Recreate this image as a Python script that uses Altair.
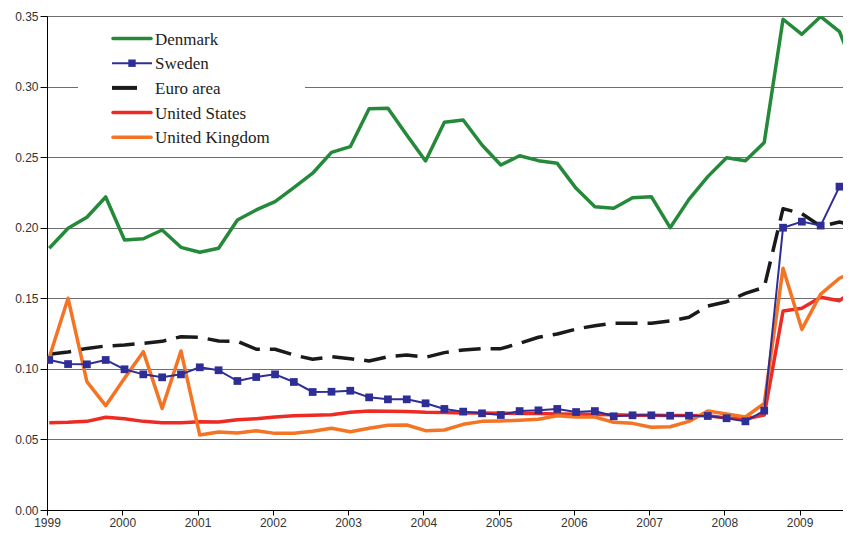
import altair as alt
import pandas as pd

# Quarterly observations, 1999Q1 .. 2009Q4 (44 quarters)
n_quarters = 44
start_year = 1999

denmark = [0.1854, 0.1996, 0.2074, 0.2218, 0.1913, 0.1922, 0.1984, 0.1861, 0.1826, 0.1854,
           0.2055, 0.2126, 0.2185, 0.2284, 0.2386, 0.2534, 0.2574, 0.2843, 0.2846, 0.2657,
           0.2473, 0.2747, 0.2763, 0.2586, 0.2444, 0.2510, 0.2475, 0.2456, 0.2279, 0.2149,
           0.2138, 0.2213, 0.2220, 0.2000, 0.2201, 0.2362, 0.2496, 0.2475, 0.2603, 0.3477,
           0.3370, 0.3496, 0.3389, 0.3054]
sweden = [0.1063, 0.1034, 0.1032, 0.1063, 0.0997, 0.0961, 0.0940, 0.0961, 0.1011, 0.0990,
          0.0914, 0.0942, 0.0961, 0.0907, 0.0836, 0.0838, 0.0845, 0.0798, 0.0784, 0.0784,
          0.0756, 0.0716, 0.0697, 0.0685, 0.0673, 0.0701, 0.0706, 0.0716, 0.0694, 0.0701,
          0.0664, 0.0671, 0.0671, 0.0668, 0.0668, 0.0666, 0.0650, 0.0628, 0.0704, 0.2000,
          0.2043, 0.2015, 0.2291, 0.2190]
euro_area = [0.1103, 0.1119, 0.1145, 0.1162, 0.1169, 0.1181, 0.1195, 0.1228, 0.1224, 0.1197,
             0.1195, 0.1139, 0.1139, 0.1098, 0.1068, 0.1086, 0.1072, 0.1056, 0.1086, 0.1098,
             0.1082, 0.1115, 0.1134, 0.1143, 0.1143, 0.1181, 0.1224, 0.1247, 0.1282, 0.1306,
             0.1323, 0.1323, 0.1323, 0.1339, 0.1365, 0.1445, 0.1476, 0.1535, 0.1578, 0.2135,
             0.2100, 0.2010, 0.2040, 0.2010]
united_states = [0.0619, 0.0621, 0.0628, 0.0657, 0.0647, 0.0628, 0.0619, 0.0619, 0.0626, 0.0624,
                 0.0640, 0.0647, 0.0659, 0.0668, 0.0671, 0.0675, 0.0692, 0.0701, 0.0699, 0.0697,
                 0.0692, 0.0690, 0.0688, 0.0687, 0.0686, 0.0684, 0.0683, 0.0680, 0.0678, 0.0676,
                 0.0674, 0.0672, 0.0671, 0.0670, 0.0670, 0.0668, 0.0652, 0.0645, 0.0673, 0.1410,
                 0.1429, 0.1507, 0.1483, 0.1580]
united_kingdom = [0.1080, 0.1500, 0.0909, 0.0739, 0.0933, 0.1122, 0.0720, 0.1127, 0.0531, 0.0553,
                  0.0546, 0.0562, 0.0543, 0.0543, 0.0558, 0.0579, 0.0555, 0.0579, 0.0600, 0.0602,
                  0.0562, 0.0567, 0.0607, 0.0628, 0.0631, 0.0636, 0.0643, 0.0668, 0.0659, 0.0659,
                  0.0621, 0.0614, 0.0586, 0.0590, 0.0628, 0.0701, 0.0680, 0.0659, 0.0756, 0.1713,
                  0.1280, 0.1530, 0.1642, 0.1700]

series_names = ["Denmark", "Sweden", "Euro area", "United States", "United Kingdom"]
series_values = [denmark, sweden, euro_area, united_states, united_kingdom]
series_colors = ["#248a3a", "#2e2e96", "#1a1a1a", "#ee2a24", "#f47424"]

year_ticks = list(range(1999, 2010))
y_ticks = [0.00, 0.05, 0.10, 0.15, 0.20, 0.25, 0.30, 0.35]

# observation time (quarter dates)
times = [start_year + i / 4 + 0.03 for i in range(n_quarters)]

rows = []
for name, vals in zip(series_names, series_values):
    for t, v in zip(times, vals):
        rows.append({"country": name, "t": t, "value": v})
df = pd.DataFrame(rows)

W, H = 796, 494
PX_PER_YEAR = 75.26
x_scale = alt.Scale(domain=[1999, 1999 + W / PX_PER_YEAR], nice=False, zero=False)
y_scale = alt.Scale(domain=[0, 0.35], nice=False)
color_scale = alt.Scale(domain=series_names, range=series_colors)

x_enc = alt.X("t:Q", scale=x_scale,
              axis=alt.Axis(values=year_ticks, format="d", title=None, grid=False,
                            labelFont="Liberation Sans", labelFontSize=12, labelColor="#333333",
                            domainColor="#000000", tickColor="#000000", tickSize=5,
                            labelPadding=2, labelFlush=False))
y_enc = alt.Y("value:Q", scale=y_scale,
              axis=alt.Axis(values=y_ticks, format=".2f", title=None, grid=True,
                            gridColor="#6e6e6e", gridWidth=1,
                            labelFont="Liberation Sans", labelFontSize=12, labelColor="#333333",
                            domainColor="#000000", tickColor="#000000", tickSize=7,
                            labelPadding=2))

def line_for(name, width, dash=None):
    kw = dict(strokeWidth=width, clip=True, strokeJoin="round")
    if dash:
        kw["strokeDash"] = dash
        kw["strokeCap"] = "butt"
    return (alt.Chart(df[df.country == name]).mark_line(**kw)
            .encode(x=x_enc, y=y_enc,
                    color=alt.Color("country:N", scale=color_scale, legend=None)))

base_axes = alt.Chart(df).mark_point(opacity=0).encode(x=x_enc, y=y_enc)

# legend box (white background hiding gridline)
legend_bg = alt.Chart(pd.DataFrame({"a": [0]})).mark_rect(fill="white").encode(
    x=alt.value(78 - 47), x2=alt.value(305 - 47), y=alt.value(22 - 16), y2=alt.value(150 - 16))

legend_layers = [legend_bg]
leg_y0 = 38.5 - 16
leg_dy = 24.7
for k, (name, col) in enumerate(zip(series_names, series_colors)):
    yy = leg_y0 + k * leg_dy
    d1 = pd.DataFrame({"a": [0]})
    if name == "Euro area":
        sym = alt.Chart(d1).mark_rule(color=col, strokeWidth=4, strokeCap="butt").encode(
            x=alt.value(112 - 47), x2=alt.value(137 - 47), y=alt.value(yy))
    elif name == "Sweden":
        sym = alt.Chart(d1).mark_rule(color=col, strokeWidth=2).encode(
            x=alt.value(112 - 47), x2=alt.value(152 - 47), y=alt.value(yy))
        sq = alt.Chart(d1).mark_square(color=col, size=55, opacity=1).encode(
            x=alt.value(132 - 47), y=alt.value(yy))
        legend_layers.append(sq)
    else:
        sym = alt.Chart(d1).mark_rule(color=col, strokeWidth=3.5, strokeCap="round").encode(
            x=alt.value(113 - 47), x2=alt.value(151 - 47), y=alt.value(yy))
    txt = alt.Chart(d1).mark_text(text=name, align="left", baseline="middle",
                                  font="Liberation Serif", fontSize=17, color="#222222").encode(
        x=alt.value(155 - 47), y=alt.value(yy + 1))
    legend_layers.extend([sym, txt])

lines = [
    line_for("Denmark", 3.5),
    line_for("Euro area", 3.5, dash=[22, 10]),
    line_for("United States", 3.5),
    line_for("United Kingdom", 3.5),
    line_for("Sweden", 2),
]
sweden_pts = (alt.Chart(df[df.country == "Sweden"])
              .mark_square(size=60, opacity=1, color="#2e2e96", clip=True)
              .encode(x=x_enc, y=y_enc))

chart = alt.layer(base_axes, *legend_layers, *lines, sweden_pts).properties(
    width=W, height=H,
    autosize=alt.AutoSizeParams(type="none"),
    padding={"left": 39, "top": 8, "right": 0, "bottom": 18},
).configure_view(stroke=None).configure(background="white")

chart.save("out.html", embed_options={"renderer": "svg", "actions": False})
